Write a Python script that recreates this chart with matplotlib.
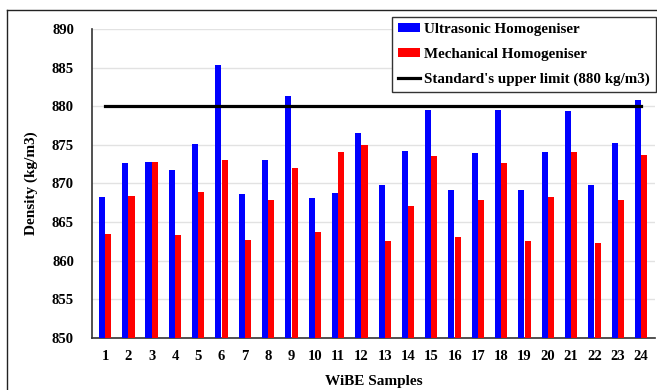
import matplotlib
matplotlib.use("Agg")
import matplotlib.pyplot as plt
from matplotlib.lines import Line2D
import numpy as np

samples = list(range(1, 25))
ultrasonic = [868.3, 872.7, 872.8, 871.8, 875.1, 885.4, 868.6, 873.0, 881.3, 868.1, 868.8, 876.6,
              869.8, 874.2, 879.5, 869.1, 874.0, 879.5, 869.1, 874.1, 879.4, 869.8, 875.3, 880.8]
mechanical = [863.4, 868.4, 872.8, 863.3, 868.9, 873.1, 862.7, 867.8, 872.0, 863.7, 874.1, 875.0,
              862.5, 867.1, 873.6, 863.1, 867.9, 872.6, 862.5, 868.2, 874.1, 862.3, 867.9, 873.7]
upper_limit = 880
yticks = [850, 855, 860, 865, 870, 875, 880, 885, 890]

plt.rcParams['font.family'] = ['Liberation Serif', 'DejaVu Serif']
plt.rcParams['font.weight'] = 'bold'

W, H = 657, 390
fig = plt.figure(figsize=(W / 100, H / 100), dpi=100)
ax = fig.add_axes([92 / W, 1 - 338 / H, (655 - 92) / W, (338 - 29) / H])

x = np.array(samples)
bw = 0.26
b1 = ax.bar(x - 0.135, [u - 850 for u in ultrasonic], bottom=850, width=bw, color='#0000ff',
            label='Ultrasonic Homogeniser', zorder=3)
b2 = ax.bar(x + 0.135, [m - 850 for m in mechanical], bottom=850, width=bw, color='#ff0000',
            label='Mechanical Homogeniser', zorder=3)
l1, = ax.plot(x, [upper_limit] * len(x), color='black', lw=2.3, zorder=4,
              label="Standard's upper limit (880 kg/m3)")

ax.set_xlim(0.44, 24.6)
ax.set_ylim(850, 890)
ax.set_yticks(yticks)
ax.set_xticks(samples)
ax.set_xticklabels([str(s) for s in samples], fontsize=10.5, fontweight='bold')
ax.set_yticklabels([str(t) for t in yticks], fontsize=10.5, fontweight='bold')
ax.tick_params(axis='both', length=0)
ax.tick_params(axis='y', pad=13)
ax.tick_params(axis='x', pad=9)
ax.grid(axis='y', color='#e2e2e2', lw=1, zorder=0)
ax.set_axisbelow(True)
for s in ['top', 'right']:
    ax.spines[s].set_visible(False)
for s in ['left', 'bottom']:
    ax.spines[s].set_color('#333333')
    ax.spines[s].set_linewidth(1.2)

ax.set_ylabel('Density (kg/m3)', fontsize=11, fontweight='bold', labelpad=10)
ax.set_xlabel('WiBE Samples', fontsize=11, fontweight='bold', labelpad=8)

leg = ax.legend(handles=[b1, b2, l1], loc='upper right', bbox_to_anchor=(656 / W, 1 - 17 / H),
                bbox_transform=fig.transFigure, borderaxespad=0,
                frameon=True, fancybox=False, shadow=False,
                handlelength=1.45, handleheight=0.5, handletextpad=0.3,
                labelspacing=0.78, borderpad=0.4, prop={'weight': 'bold', 'size': 10.8})
leg.get_frame().set_edgecolor('#333333')
leg.get_frame().set_linewidth(1.0)
leg.get_frame().set_facecolor('white')
leg.get_frame().set_alpha(1)

# outer figure border (left and top)
fig.add_artist(Line2D([7 / W, 7 / W], [0, 1 - 10 / H], transform=fig.transFigure, color='#222222', lw=1))
fig.add_artist(Line2D([7 / W, 1], [1 - 10 / H, 1 - 10 / H], transform=fig.transFigure, color='#222222', lw=1))

fig.savefig('out.png', dpi=100)
